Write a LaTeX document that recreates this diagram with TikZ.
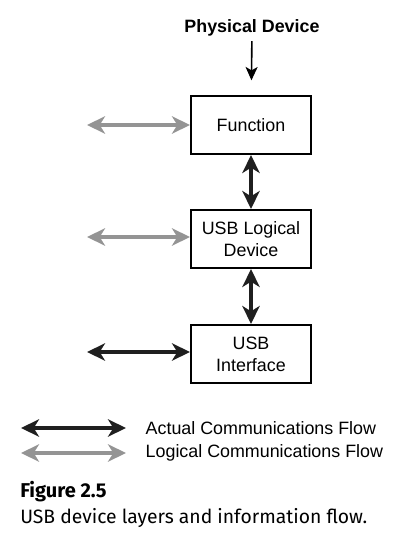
\documentclass[tikz,border=0pt]{standalone}
\usepackage{fontspec}
\setmainfont{Liberation Sans}
\newfontfamily\capfont{Fira Sans}
\usetikzlibrary{arrows.meta}

\begin{document}
\begin{tikzpicture}[x=0.75pt,y=-0.75pt,
    txt/.style={font=\fontsize{13.4}{16.5}\selectfont},
    layer/.style={txt,draw,line width=1.5pt,minimum width=90pt,
        minimum height=43.5pt,align=center,inner sep=2pt},
    actual/.style={line width=3pt,black!88,{Stealth[length=13.5pt,width=13pt,inset=4pt]}-{Stealth[length=13.5pt,width=13pt,inset=4pt]}},
    logical/.style={actual,black!42}]
    \useasboundingbox (0,0) rectangle (412,534);
    % layers
    \node[txt,font=\fontsize{13.4}{15.5}\selectfont\bfseries] (phys) at (252,28) {Physical Device};
    \node[layer] (func) at (251,125) {Function};
    \node[layer] (logic) at (251,239) {USB Logical\\Device};
    \node[layer] (iface) at (251,354) {USB\\Interface};
    \draw[line width=1.2pt,-{Stealth[length=10pt,width=9pt,inset=2.5pt]},shorten >=11pt] (phys) -- (func);
    \draw[actual] (func) -- (logic);
    \draw[actual] (logic) -- (iface);
    % left side flows
    \coordinate (lf) at (87,125);
    \coordinate (ll) at (87,237);
    \coordinate (li) at (87,352);
    \draw[logical] (lf) -- (lf -| func.west);
    \draw[logical] (ll) -- (ll -| logic.west);
    \draw[actual] (li) -- (li -| iface.west);
    % legend
    \coordinate (a1) at (21,428);
    \coordinate (a2) at (126,428);
    \coordinate (g1) at (21,453);
    \coordinate (g2) at (126,453);
    \draw[actual] (a1) -- (a2);
    \draw[logical] (g1) -- (g2);
    \node[txt,anchor=west] (actlbl) at (141,428) {Actual Communications Flow};
    \node[txt,anchor=west] (loglbl) at (141,453) {Logical Communications Flow};
    % caption
    \node[anchor=west,inner sep=0pt,font=\capfont\fontsize{15}{17}\selectfont\bfseries] (fig) at (20,492) {Figure 2.5};
    \node[anchor=west,inner sep=0pt,font=\capfont\fontsize{14.5}{17}\selectfont] (cap) at (20,518) {USB device layers and information flow.};
\end{tikzpicture}
\end{document}
